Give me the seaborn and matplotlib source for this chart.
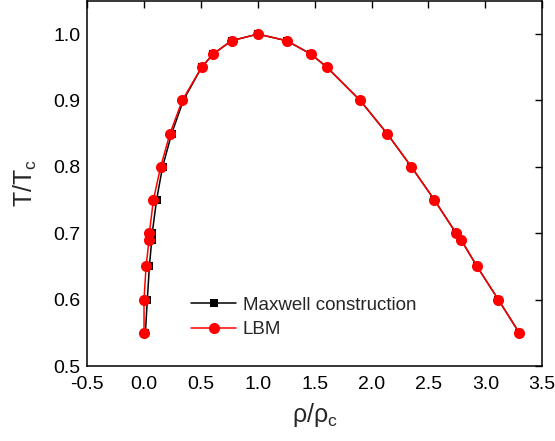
import matplotlib
matplotlib.use("Agg")
import matplotlib.pyplot as plt
import seaborn as sns
import pandas as pd

# Reduced temperature levels (shared by both data sets)
t_levels = [0.55, 0.60, 0.65, 0.69, 0.70, 0.75, 0.80, 0.85, 0.90, 0.95, 0.97, 0.99, 1.00,
            0.99, 0.97, 0.95, 0.90, 0.85, 0.80, 0.75, 0.70, 0.69, 0.65, 0.60, 0.55]

# Coexistence densities: gas branch, critical point, liquid branch
rho_maxwell = [0.012, 0.029, 0.047, 0.068, 0.072, 0.110, 0.163, 0.243, 0.345, 0.506, 0.608, 0.769, 1.000,
               1.254, 1.465, 1.608, 1.900, 2.137, 2.350, 2.553, 2.743, 2.787, 2.927, 3.114, 3.298]
rho_lbm = [0.000, 0.000, 0.018, 0.044, 0.047, 0.082, 0.146, 0.228, 0.336, 0.506, 0.608, 0.769, 1.000,
           1.254, 1.465, 1.608, 1.900, 2.137, 2.350, 2.553, 2.743, 2.787, 2.927, 3.114, 3.298]

series_names = ["Maxwell construction", "LBM"]

df = pd.concat([
    pd.DataFrame({"rho": rho_maxwell, "T": t_levels, "method": series_names[0]}),
    pd.DataFrame({"rho": rho_lbm, "T": t_levels, "method": series_names[1]}),
])

sns.set_theme(style="white")
plt.rcParams["font.family"] = ["Liberation Sans", "DejaVu Sans"]

fig = plt.figure(figsize=(5.55, 4.41), dpi=100)
ax = fig.add_axes([0.157, 0.170, 0.820, 0.828])

sns.lineplot(data=df[df.method == series_names[0]], x="rho", y="T", sort=False, estimator=None,
             color="black", marker="s", markersize=6, markeredgewidth=0, linewidth=1.1,
             label=series_names[0], ax=ax)
sns.lineplot(data=df[df.method == series_names[1]], x="rho", y="T", sort=False, estimator=None,
             color="red", marker="o", markersize=8, markeredgewidth=0, linewidth=1.1,
             label=series_names[1], ax=ax)

ax.set_xlim(-0.5, 3.5)
ax.set_ylim(0.5, 1.05)
ax.set_xticks([-0.5, 0.0, 0.5, 1.0, 1.5, 2.0, 2.5, 3.0, 3.5])
ax.set_xticklabels(["-0.5", "0.0", "0.5", "1.0", "1.5", "2.0", "2.5", "3.0", "3.5"])
ax.set_yticks([0.5, 0.6, 0.7, 0.8, 0.9, 1.0])
ax.set_yticklabels(["0.5", "0.6", "0.7", "0.8", "0.9", "1.0"])

for side in ax.spines.values():
    side.set_visible(True)
    side.set_color("black")
    side.set_linewidth(1.1)

ax.tick_params(direction="in", length=5, width=1.0, top=True, right=True,
               labelsize=14, colors="black", pad=5)
ax.tick_params(axis="x", pad=7)

ax.set_xlabel(r"$\mathregular{\rho/\rho_c}$", fontsize=18, labelpad=6)
ax.set_ylabel(r"$\mathregular{T/T_c}$", fontsize=18, labelpad=10)

leg = ax.legend(loc="lower left", bbox_to_anchor=(0.2, 0.04), frameon=False, fontsize=13.5,
                handlelength=2.4, handletextpad=0.35, borderpad=0.2, labelspacing=0.4)

fig.savefig("out.png", dpi=100)
